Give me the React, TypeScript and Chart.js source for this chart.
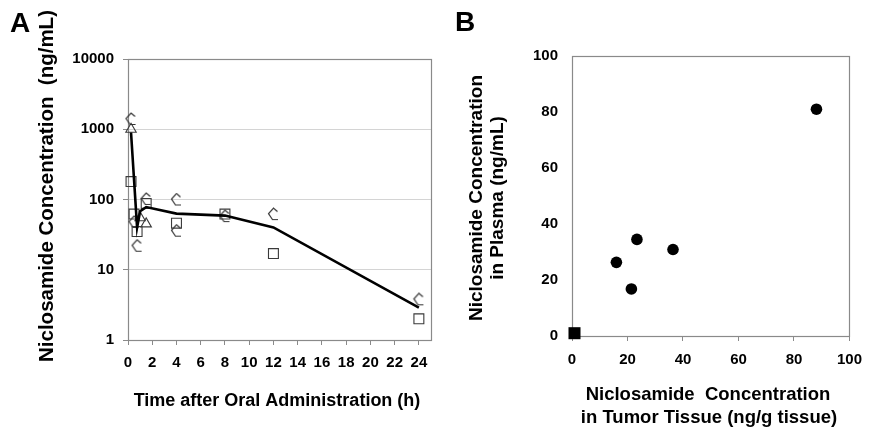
import React, { useEffect, useRef } from 'react';
import { Chart, registerables } from 'chart.js';
Chart.register(...registerables);

const FONT = '"Liberation Sans", Arial, Helvetica, sans-serif';

// ---------- Panel A data ----------
const xTicksA = [0, 2, 4, 6, 8, 10, 12, 14, 16, 18, 20, 22, 24];
const yTicksA = [1, 10, 100, 1000, 10000];
const meanTimes = [0.25, 0.75, 1, 1.5, 4, 8, 12, 24];
const meanValues = [900, 40, 68, 78, 63, 59, 40, 2.9];
const squareTimes = [0.25, 0.5, 0.75, 1.5, 4, 8, 12, 24];
const squareValues = [180, 62, 35, 88, 46, 62, 17, 2.0];
const chevronTimes = [0.25, 0.5, 0.75, 1.5, 4, 4, 8, 12, 24];
const chevronValues = [1400, 48, 22, 102, 100, 36, 58, 62, 3.8];
const triangleTimes = [0.25, 1, 1.5];
const triangleValues = [1000, 55, 45];

// ---------- Panel B data ----------
const ticksB = [0, 20, 40, 60, 80, 100];
const tumorConc = [16.0, 21.4, 23.4, 36.4, 88.1];
const plasmaConc = [26.3, 16.8, 34.5, 30.9, 81.0];
const controlTumor = [0.9];
const controlPlasma = [1.0];

const pts = (xs: number[], ys: number[]) => xs.map((x, i) => ({ x, y: ys[i] }));

function makeChevron() {
  const c = document.createElement('canvas');
  c.width = 13;
  c.height = 14;
  const g = c.getContext('2d')!;
  g.strokeStyle = '#333';
  g.lineWidth = 1.2;
  g.beginPath();
  g.moveTo(10.5, 4.5);
  g.lineTo(6.5, 1);
  g.lineTo(1.5, 6.5);
  g.lineTo(5.5, 12.5);
  g.lineTo(11, 12.5);
  g.stroke();
  return c;
}

const framePlugin = {
  id: 'frame',
  beforeDatasetsDraw(chart: any) {
    const { ctx, chartArea } = chart;
    const l = Math.round(chartArea.left) + 0.5;
    const t = Math.round(chartArea.top) + 0.5;
    const r = Math.round(chartArea.right) + 0.5;
    const b = Math.round(chartArea.bottom) + 0.5;
    ctx.save();
    ctx.strokeStyle = '#8a8a8a';
    ctx.lineWidth = 1.2;
    ctx.strokeRect(l, t, r - l, b - t);
    ctx.restore();
  },
};

type TextItem = { text: string; x: number; y: number; size: number; rot?: number; align?: CanvasTextAlign };

const textPlugin = (items: TextItem[]) => ({
  id: 'panelText',
  afterDraw(chart: any) {
    const ctx = chart.ctx;
    items.forEach((it) => {
      ctx.save();
      ctx.font = `bold ${it.size}px ${FONT}`;
      ctx.fillStyle = '#000';
      ctx.textAlign = it.align || 'center';
      ctx.textBaseline = 'middle';
      ctx.translate(it.x, it.y);
      if (it.rot) ctx.rotate(it.rot);
      ctx.fillText(it.text, 0, 0);
      ctx.restore();
    });
  },
});

const tickFont = { family: FONT, size: 15, weight: 'bold' as const };

export default function App() {
  const refA = useRef<HTMLCanvasElement>(null);
  const refB = useRef<HTMLCanvasElement>(null);

  useEffect(() => {
    const chevron = makeChevron();
    const chartA = new Chart(refA.current!, {
      type: 'scatter',
      data: {
        datasets: [
          {
            type: 'line',
            label: 'Mean',
            data: pts(meanTimes, meanValues),
            borderColor: '#000',
            borderWidth: 2.6,
            pointRadius: 0,
            fill: false,
            tension: 0,
          } as any,
          {
            label: 'Subject 1',
            data: pts(squareTimes, squareValues),
            pointStyle: 'rect',
            pointRadius: 7,
            borderColor: '#3a3a3a',
            backgroundColor: 'rgba(0,0,0,0)',
            borderWidth: 1.1,
            clip: false,
          },
          {
            label: 'Subject 2',
            data: pts(chevronTimes, chevronValues),
            pointStyle: chevron,
            pointRadius: 7,
            borderColor: '#3a3a3a',
            backgroundColor: 'rgba(0,0,0,0)',
            clip: false,
          },
          {
            label: 'Subject 3',
            data: pts(triangleTimes, triangleValues),
            pointStyle: 'triangle',
            pointRadius: 6,
            borderColor: '#3a3a3a',
            backgroundColor: 'rgba(0,0,0,0)',
            borderWidth: 1.1,
            clip: false,
          },
        ],
      },
      options: {
        responsive: false,
        animation: false,
        layout: { padding: { top: 59, right: 9, left: 0, bottom: 0 } },
        plugins: { legend: { display: false }, tooltip: { enabled: false } },
        scales: {
          x: {
            type: 'linear',
            min: 0,
            max: 25,
            afterBuildTicks: (s: any) => {
              s.ticks = xTicksA.map((v) => ({ value: v }));
            },
            afterFit: (s: any) => {
              s.height = 92;
            },
            grid: { drawOnChartArea: false, drawTicks: true, tickLength: 5, color: '#8a8a8a', tickColor: '#8a8a8a' },
            border: { display: false },
            ticks: { font: tickFont, color: '#000', padding: 9, maxRotation: 0, autoSkip: false },
          },
          y: {
            type: 'logarithmic',
            min: 1,
            max: 10000,
            afterBuildTicks: (s: any) => {
              s.ticks = yTicksA.map((v) => ({ value: v }));
            },
            afterFit: (s: any) => {
              s.width = 128;
            },
            grid: { color: '#d4d4d4', tickColor: '#8a8a8a', tickLength: 5 },
            border: { display: false },
            ticks: { font: tickFont, color: '#000', padding: 9, callback: (v: any) => String(v) },
          },
        },
      },
      plugins: [
        framePlugin,
        textPlugin([
          { text: 'A', x: 10, y: 24, size: 28, align: 'left' },
          { text: 'Niclosamide Concentration  (ng/mL)', x: 47, y: 186, size: 20.5, rot: -Math.PI / 2 },
          { text: 'Time after Oral Administration (h)', x: 277, y: 401, size: 18 },
        ]),
      ],
    });

    const chartB = new Chart(refB.current!, {
      type: 'scatter',
      data: {
        datasets: [
          {
            label: 'Control',
            data: pts(controlTumor, controlPlasma),
            pointStyle: 'rect',
            pointRadius: 8.5,
            backgroundColor: '#000',
            borderColor: '#000',
            borderWidth: 0,
            clip: false,
          },
          {
            label: 'Treated',
            data: pts(tumorConc, plasmaConc),
            pointStyle: 'circle',
            pointRadius: 5.8,
            backgroundColor: '#000',
            borderColor: '#000',
            borderWidth: 0,
            clip: false,
          },
        ],
      },
      options: {
        responsive: false,
        animation: false,
        layout: { padding: { top: 56, right: 14, left: 0, bottom: 0 } },
        plugins: { legend: { display: false }, tooltip: { enabled: false } },
        scales: {
          x: {
            type: 'linear',
            min: 0,
            max: 100,
            afterBuildTicks: (s: any) => {
              s.ticks = ticksB.map((v) => ({ value: v }));
            },
            afterFit: (s: any) => {
              s.height = 96;
            },
            grid: { drawOnChartArea: false, drawTicks: true, tickLength: 5, color: '#8a8a8a', tickColor: '#8a8a8a' },
            border: { display: false },
            ticks: { font: tickFont, color: '#000', padding: 10, maxRotation: 0, autoSkip: false },
          },
          y: {
            type: 'linear',
            min: 0,
            max: 100,
            afterBuildTicks: (s: any) => {
              s.ticks = ticksB.map((v) => ({ value: v }));
            },
            afterFit: (s: any) => {
              s.width = 132;
            },
            grid: { display: false, drawTicks: false },
            border: { display: false },
            ticks: { font: tickFont, color: '#000', padding: 14 },
          },
        },
      },
      plugins: [
        framePlugin,
        textPlugin([
          { text: 'B', x: 15, y: 23, size: 28, align: 'left' },
          { text: 'Niclosamide Concentration', x: 37, y: 198, size: 19, rot: -Math.PI / 2 },
          { text: 'in Plasma (ng/mL)', x: 57.5, y: 198, size: 19, rot: -Math.PI / 2 },
          { text: 'Niclosamide  Concentration', x: 268, y: 395, size: 18.5 },
          { text: 'in Tumor Tissue (ng/g tissue)', x: 269, y: 418, size: 18.5 },
        ]),
      ],
    });

    return () => {
      chartA.destroy();
      chartB.destroy();
    };
  }, []);

  return (
    <div style={{ position: 'fixed', left: 0, top: 0, width: 872, height: 432, background: '#fff' }}>
      <canvas ref={refA} width={440} height={432} style={{ position: 'absolute', left: 0, top: 0, width: 440, height: 432 }} />
      <canvas ref={refB} width={432} height={432} style={{ position: 'absolute', left: 440, top: 0, width: 432, height: 432 }} />
    </div>
  );
}
